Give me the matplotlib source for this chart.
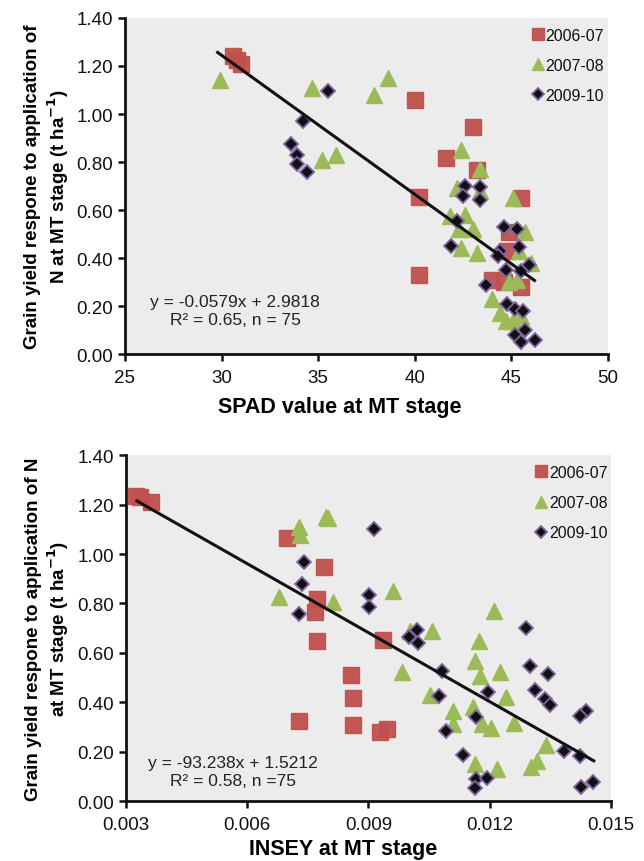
import matplotlib
matplotlib.use('agg')
import matplotlib.pyplot as plt
from matplotlib.ticker import FormatStrFormatter

plt.rcParams['font.family'] = ['Liberation Sans', 'DejaVu Sans']

# ---- top panel: SPAD vs response ----
spad_0607_x = [30.6, 30.8, 31.0, 40.0, 43.0, 41.6, 43.2, 40.2, 45.5, 40.2, 44.9, 44.8, 44.0, 44.6, 45.5]
spad_0607_y = [1.24, 1.225, 1.208, 1.058, 0.946, 0.817, 0.767, 0.654, 0.65, 0.33, 0.51, 0.43, 0.31, 0.30, 0.28]

spad_0708_x = [29.9, 34.7, 37.9, 38.6, 35.2, 35.9, 42.4, 43.4, 42.2, 43.4, 45.1, 41.8, 42.6, 42.3,
               43.0, 42.4, 43.2, 45.7, 45.4, 44.9, 45.3, 44.0, 44.4, 44.7, 45.1, 45.5, 46.0]
spad_0708_y = [1.14, 1.11, 1.08, 1.15, 0.81, 0.83, 0.85, 0.77, 0.69, 0.68, 0.65, 0.575, 0.58, 0.52,
               0.52, 0.44, 0.42, 0.51, 0.43, 0.30, 0.31, 0.23, 0.17, 0.14, 0.14, 0.16, 0.38]

spad_0910_x = [35.5, 34.2, 33.6, 33.9, 33.9, 34.4, 42.6, 42.5, 43.4, 43.4, 42.2, 41.9, 44.6, 45.3,
               45.4, 44.4, 44.3, 44.7, 45.5, 43.7, 45.9, 44.8, 45.2, 45.6, 45.2, 45.7, 45.5, 46.2]
spad_0910_y = [1.096, 0.97, 0.875, 0.83, 0.79, 0.76, 0.70, 0.66, 0.695, 0.64, 0.555, 0.45, 0.53, 0.52,
               0.445, 0.43, 0.41, 0.35, 0.345, 0.29, 0.37, 0.21, 0.19, 0.18, 0.08, 0.10, 0.05, 0.06]

spad_fit = (-0.0579, 2.9818)
spad_fit_range = [29.8, 46.2]

# ---- bottom panel: INSEY vs response ----
insey_0607_x = [0.00325, 0.00335, 0.00363, 0.00698, 0.00790, 0.00772, 0.00768, 0.00772, 0.00935,
                0.00856, 0.00862, 0.00862, 0.00729, 0.00928, 0.00945]
insey_0607_y = [1.235, 1.23, 1.21, 1.065, 0.947, 0.818, 0.766, 0.649, 0.652, 0.51, 0.417, 0.309,
                0.323, 0.278, 0.291]

insey_0708_x = [0.00729, 0.00732, 0.00795, 0.00800, 0.00680, 0.00812, 0.00960, 0.01210, 0.01058,
                0.01002, 0.01173, 0.01163, 0.01177, 0.01225, 0.00982, 0.01052, 0.01240, 0.01108,
                0.01159, 0.01109, 0.01182, 0.01202, 0.01259, 0.01338, 0.01317, 0.01303, 0.01163,
                0.01218]
insey_0708_y = [1.108, 1.077, 1.15, 1.146, 0.825, 0.804, 0.851, 0.77, 0.69, 0.69, 0.649, 0.568,
                0.505, 0.521, 0.521, 0.429, 0.42, 0.366, 0.379, 0.312, 0.312, 0.294, 0.316, 0.227,
                0.163, 0.136, 0.15, 0.13]

insey_0910_x = [0.00914, 0.00741, 0.00735, 0.00728, 0.00902, 0.00902, 0.01289, 0.01019, 0.01001,
                0.01023, 0.01299, 0.01344, 0.01083, 0.01196, 0.01311, 0.01336, 0.01350, 0.01075,
                0.01437, 0.01422, 0.01167, 0.01093, 0.01383, 0.01422, 0.01134, 0.01165, 0.01163,
                0.01193, 0.01426, 0.01455]
insey_0910_y = [1.10, 0.969, 0.879, 0.757, 0.834, 0.784, 0.699, 0.694, 0.663, 0.64, 0.548, 0.514,
                0.527, 0.443, 0.451, 0.413, 0.389, 0.426, 0.366, 0.345, 0.339, 0.285, 0.204, 0.181,
                0.186, 0.089, 0.051, 0.092, 0.055, 0.078]

insey_fit = (-93.238, 1.5212)
insey_fit_range = [0.00328, 0.01457]

seasons = ['2006-07', '2007-08', '2009-10']

RED = '#C0504D'
GREEN = '#9BBB59'
PURPLE = '#8064A2'
BG = '#ECECEC'


def draw_panel(ax, xs, ys, fit, fit_range, eq_lines, eq_pos):
    (x1, y1), (x2, y2), (x3, y3) = zip(xs, ys)
    ax.set_facecolor(BG)
    ax.plot(x1, y1, ls='none', marker='s', ms=11.5, mfc=RED, mec=RED, alpha=0.95,
            label=seasons[0], zorder=3)
    ax.plot(x2, y2, ls='none', marker='^', ms=12, mfc=GREEN, mec=GREEN,
            label=seasons[1], zorder=3)
    ax.plot(x3, y3, ls='none', marker='D', ms=7.5, mfc='#111111', mec=PURPLE, mew=1.3,
            label=seasons[2], zorder=4)
    fx = fit_range
    fy = [fit[0] * v + fit[1] for v in fx]
    ax.plot(fx, fy, color='#111111', lw=2.2, zorder=5)

    ax.text(eq_pos[0], eq_pos[1], eq_lines, ha='center', va='center', fontsize=12.5,
            linespacing=1.25, color='#222222')

    for s in ['top', 'right']:
        ax.spines[s].set_visible(False)
    for s in ['left', 'bottom']:
        ax.spines[s].set_linewidth(2.0)
        ax.spines[s].set_color('#111111')
    ax.tick_params(direction='out', length=5, width=1.8, labelsize=13.5, colors='#111111')
    ax.tick_params(axis='x', pad=6)
    ax.set_ylim(0, 1.4)
    ax.set_yticks([0, 0.2, 0.4, 0.6, 0.8, 1.0, 1.2, 1.4])
    ax.yaxis.set_major_formatter(FormatStrFormatter('%.2f'))

    leg = ax.legend(loc='upper right', bbox_to_anchor=(1.012, 1.0), frameon=False,
                    fontsize=11.5, markerscale=0.75, handletextpad=0.05,
                    handlelength=0.9, labelspacing=0.95, borderaxespad=0.2)
    for t in leg.get_texts():
        t.set_color('#111111')


fig = plt.figure(figsize=(6.44, 8.62), dpi=100)

ax1 = fig.add_axes([0.194, 0.588, 0.750, 0.390])
draw_panel(ax1,
           [spad_0607_x, spad_0708_x, spad_0910_x],
           [spad_0607_y, spad_0708_y, spad_0910_y],
           spad_fit, spad_fit_range,
           'y = -0.0579x + 2.9818\nR\u00b2 = 0.65, n = 75', (30.7, 0.18))
ax1.set_xlim(25, 50)
ax1.set_xticks([25, 30, 35, 40, 45, 50])
ax1.set_xlabel('SPAD value at MT stage', fontsize=15.5, fontweight='bold')
ax1.xaxis.set_label_coords(0.445, -0.125)
ax1.set_ylabel('Grain yield respone to application of\nN at MT stage (t ha$^{\\mathbf{-1}}$)',
               fontsize=13.5, fontweight='bold', labelpad=4)

ax2 = fig.add_axes([0.195, 0.0696, 0.754, 0.401])
draw_panel(ax2,
           [insey_0607_x, insey_0708_x, insey_0910_x],
           [insey_0607_y, insey_0708_y, insey_0910_y],
           insey_fit, insey_fit_range,
           'y = -93.238x + 1.5212\nR\u00b2 = 0.58, n =75', (0.00565, 0.12))
ax2.set_xlim(0.003, 0.015)
ax2.set_xticks([0.003, 0.006, 0.009, 0.012, 0.015])
ax2.xaxis.set_major_formatter(FormatStrFormatter('%.3f'))
ax2.set_xlabel('INSEY at MT stage', fontsize=15.5, fontweight='bold')
ax2.xaxis.set_label_coords(0.448, -0.108)
ax2.set_ylabel('Grain yield respone to application of N\nat MT stage (t ha$^{\\mathbf{-1}}$)',
               fontsize=13.5, fontweight='bold', labelpad=4)

fig.savefig('out.png', dpi=100, facecolor='white')
